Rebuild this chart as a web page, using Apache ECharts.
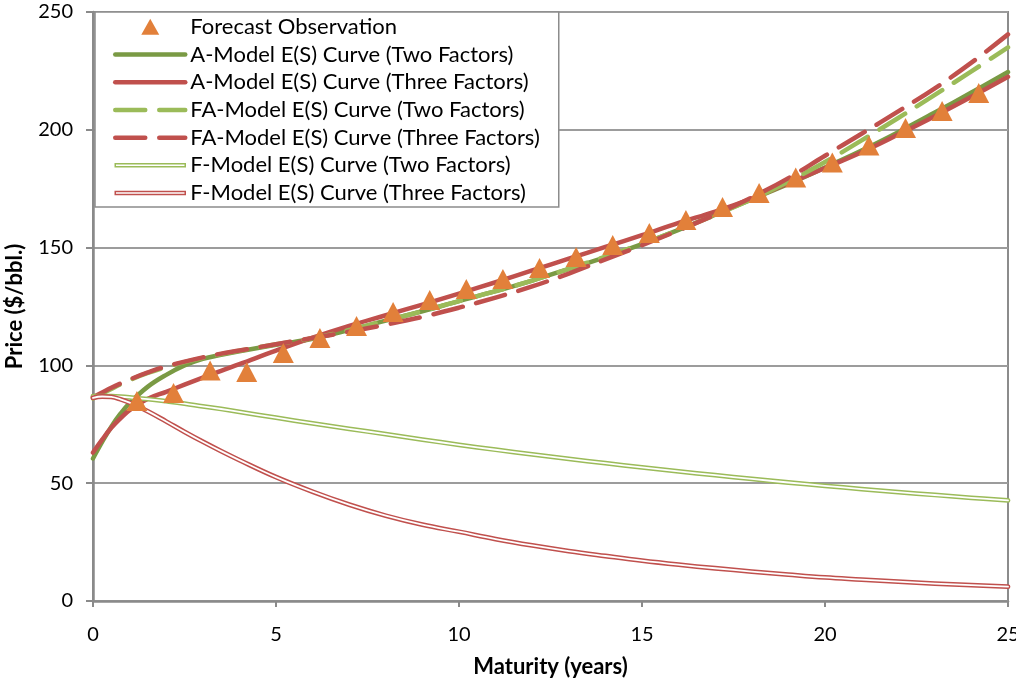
<!DOCTYPE html>
<html><head><meta charset="utf-8">
<script src="https://cdn.jsdelivr.net/npm/echarts@6/dist/echarts.min.js"></script>
<style>html,body{margin:0;padding:0;background:#fff}#c{width:1016px;height:680px}</style>
</head><body><div id="c"></div>
<script>
// ---- data ----
const obsT = [1.2,2.2,3.2,4.2,5.2,6.2,7.2,8.2,9.2,10.2,11.2,12.2,13.2,14.2,15.2,16.2,17.2,18.2,19.2,20.2,21.2,22.2,23.2,24.2];
const obsPrice = [84.9,88.3,97.8,97.2,105.3,111.6,116.7,122.7,127.8,132.4,136.7,141.3,146.0,151.1,156.2,161.7,167.2,173.2,179.8,186.1,193.3,200.8,208.0,215.6];

const curveT = [0,0.25,0.5,0.75,1,1.5,2,2.5,3,3.5,4,5,6,7,8,9,10,11,12,13,14,15,16,17,18,19,20,21,22,23,24,25];
const aTwo   = [60.5,67.5,74,79.5,84,91,96,100,102.8,104.5,106,108.7,111.3,115,119,123,127.3,131.5,136,141,146,151.5,157.5,164,170.5,177,184,191.2,199,207.3,215.8,224.5];
const aThree = [63,68.5,73.5,77.5,81,85.8,88.8,91.8,94.8,97.7,100.5,106.3,111.8,116.8,121.3,125.8,130.5,135.3,140.3,145.3,150.3,155.3,160.5,165.3,170.8,177.3,183.8,190.5,198,205.8,214,222.5];
const faTwo  = [86,88,90,92,93.8,96.8,99.3,101.4,103.2,104.8,106.2,109,111.5,115,119,123,127.3,131.5,136,141,146.2,151.6,157.5,163.8,170.5,178,186.3,195.5,205,214.8,224.8,235];
const faThree= [86.5,88.5,90.5,92.3,94,97,99.6,101.6,103.4,105,106.3,109,111.6,114.3,117.3,120.6,124.5,128.8,133.5,139,145,151,157.3,164,171.3,179.5,189,198.3,207.8,217.6,228.5,240.5];
const fTwo   = [87,87,86.9,86.7,86.4,85.7,84.8,83.8,82.6,81.5,80.3,77.8,75.4,73.1,70.8,68.5,66.3,64.2,62.2,60.3,58.5,56.7,55,53.4,51.8,50.3,48.9,47.5,46.2,45,43.8,42.7];
const fThree = [86.2,86.8,86.6,85.6,84.2,80.5,76.2,71.8,67.6,63.6,59.8,52.6,46.4,40.9,36.2,32.4,29.4,26.3,23.6,21.2,19.1,17.1,15.4,13.9,12.5,11.2,10.0,9.1,8.2,7.4,6.7,6.1];

const seriesNames = [
  'Forecast Observation',
  'A-Model E(S) Curve (Two Factors)',
  'A-Model E(S) Curve (Three Factors)',
  'FA-Model E(S) Curve (Two Factors)',
  'FA-Model E(S) Curve (Three Factors)',
  'F-Model E(S) Curve (Two Factors)',
  'F-Model E(S) Curve (Three Factors)'
];
const xAxisName = 'Maturity (years)';
const yAxisName = 'Price ($/bbl.)';

// ---- styles ----
const GREEN_D = '#7A9A44', GREEN_L = '#9BBB59', RED = '#C0504D', ORANGE = '#E2803A';
const FONT = 'Lato';
const pairs = (xs, ys) => xs.map((x, i) => [x, ys[i]]);
const SMOOTH = 0.4;
const DASH = [30, 14];

function lineSeries(name, data, color, width, dashed, z) {
  return {
    name, type: 'line', data: pairs(curveT, data), symbol: 'none', smooth: SMOOTH,
    z: z, silent: true,
    lineStyle: { color, width, type: dashed ? DASH : 'solid', cap: 'round', join: 'round' },
    itemStyle: { color }
  };
}

const series = [
  lineSeries(seriesNames[1], aTwo, GREEN_D, 4.5, false, 2),
  lineSeries(seriesNames[2], aThree, RED, 4.5, false, 2),
  lineSeries(seriesNames[3], faTwo, GREEN_L, 4.5, true, 2),
  lineSeries(seriesNames[4], faThree, RED, 4.5, true, 2),
  lineSeries(seriesNames[5], fTwo, GREEN_L, 4.8, false, 3),
  lineSeries('F2 inner', fTwo, '#ffffff', 1.8, false, 3),
  lineSeries(seriesNames[6], fThree, RED, 4.8, false, 3),
  lineSeries('F3 inner', fThree, '#ffffff', 1.8, false, 3),
  {
    name: seriesNames[0], type: 'scatter', data: pairs(obsT, obsPrice),
    symbol: 'triangle', symbolSize: [21, 20], z: 5, silent: true,
    itemStyle: { color: ORANGE, opacity: 1 }
  }
];

const pathIcon = 'path://M0,0L70,0L70,3L0,3Z';
const triIcon = 'path://M9,0L18,16L0,16Z';
const lineLeg = (name, color, dashed) => ({ name, itemStyle: { opacity: 0 }, lineStyle: { width: 4.5, color, type: dashed ? DASH : 'solid', cap: 'round' } });
const legendData = [
  { name: seriesNames[0], icon: triIcon, itemStyle: { color: ORANGE, opacity: 1 } },
  lineLeg(seriesNames[1], GREEN_D, false),
  lineLeg(seriesNames[2], RED, false),
  lineLeg(seriesNames[3], GREEN_L, true),
  lineLeg(seriesNames[4], RED, true),
  { name: seriesNames[5], icon: pathIcon, itemStyle: { color: '#ffffff', borderColor: GREEN_L, borderWidth: 1.5 } },
  { name: seriesNames[6], icon: pathIcon, itemStyle: { color: '#ffffff', borderColor: RED, borderWidth: 1.5 } }
];

const chart = echarts.init(document.getElementById('c'), null, { renderer: 'canvas' });
chart.setOption({
  animation: false,
  backgroundColor: '#ffffff',
  textStyle: { fontFamily: FONT },
  grid: { left: 93, right: 8, top: 12, bottom: 79, show: true, borderColor: '#8c8c8c', borderWidth: 2,
          backgroundColor: 'transparent', containLabel: false, outerBoundsMode: 'none' },
  legend: {
    data: legendData, orient: 'vertical', left: 95, top: 12,
    padding: [1, 19, 0, 18], itemGap: 0, itemWidth: 70, itemHeight: 16,
    backgroundColor: '#ffffff', borderColor: '#8c8c8c', borderWidth: 1.5,
    selectedMode: false,
    textStyle: { fontFamily: FONT, fontSize: 22, color: '#000', lineHeight: 27.7 }
  },
  xAxis: {
    type: 'value', min: 0, max: 25, interval: 5,
    name: xAxisName, nameLocation: 'middle', nameGap: 55,
    nameTextStyle: { fontFamily: FONT, fontSize: 22, fontWeight: 'bold', color: '#000' },
    axisLine: { show: true, lineStyle: { color: '#8a8a8a', width: 2.5 } },
    axisTick: { show: true, length: 6, lineStyle: { color: '#8a8a8a', width: 2 } },
    axisLabel: { fontFamily: FONT, fontSize: 20, color: '#000', margin: 24, showMaxLabel: true },
    splitLine: { show: false }
  },
  yAxis: {
    type: 'value', min: 0, max: 250, interval: 50,
    name: yAxisName, nameLocation: 'middle', nameGap: 67, nameRotate: 90,
    nameTextStyle: { fontFamily: FONT, fontSize: 22, fontWeight: 'bold', color: '#000' },
    axisLine: { show: true, lineStyle: { color: '#8a8a8a', width: 2.5 } },
    axisTick: { show: true, length: 7, lineStyle: { color: '#8a8a8a', width: 2 } },
    axisLabel: { fontFamily: FONT, fontSize: 20, color: '#000', margin: 20 },
    splitLine: { show: true, lineStyle: { color: '#9c9c9c', width: 2 } }
  },
  series: series
});
</script></body></html>
